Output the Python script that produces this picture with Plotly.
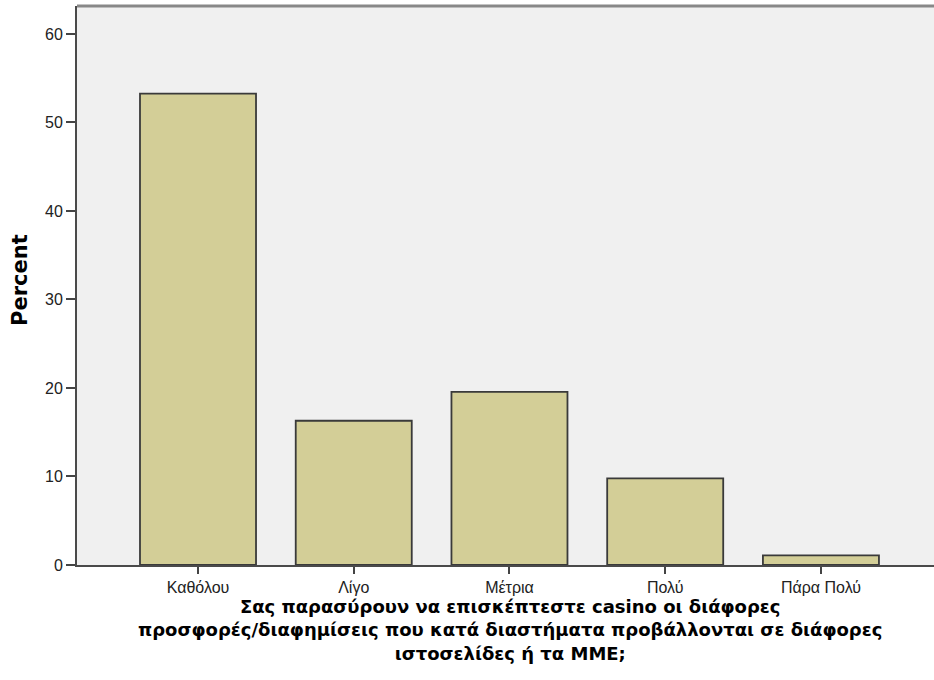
import plotly.graph_objects as go

categories = ["Καθόλου", "Λίγο", "Μέτρια", "Πολύ", "Πάρα Πολύ"]
percent = [53.26, 16.30, 19.57, 9.78, 1.09]
y_ticks = [0, 10, 20, 30, 40, 50, 60]

x_title_lines = [
    "Σας παρασύρουν να επισκέπτεστε casino οι διάφορες",
    "προσφορές/διαφημίσεις που κατά διαστήματα προβάλλονται σε διάφορες",
    "ιστοσελίδες ή τα ΜΜΕ;",
]

PLOT_TOP, PLOT_BOTTOM, PLOT_LEFT = 6, 565, 77
H = PLOT_BOTTOM - PLOT_TOP

fig = go.Figure()
fig.add_trace(go.Bar(
    x=list(range(len(categories))),
    y=percent,
    width=0.745,
    marker=dict(color="#d3ce97", line=dict(color="#3a3a3a", width=1.8)),
    hoverinfo="skip",
))

fig.update_layout(
    width=934, height=680,
    margin=dict(l=PLOT_LEFT, r=0, t=PLOT_TOP, b=680 - PLOT_BOTTOM),
    paper_bgcolor="white",
    plot_bgcolor="#f0f0f0",
    showlegend=False,
    font=dict(family="Liberation Sans, Arial, sans-serif", size=16, color="#222"),
    xaxis=dict(
        range=[-0.777, 4.726],
        tickmode="array",
        tickvals=list(range(len(categories))),
        ticktext=categories,
        ticks="outside", ticklen=7, tickwidth=2, tickcolor="#444",
        showline=True, linecolor="#4a4a4a", linewidth=2,
        showgrid=False, zeroline=False, automargin=False,
        tickfont=dict(size=16, color="#222"),
    ),
    yaxis=dict(
        range=[0, 63.16],
        tickmode="array",
        tickvals=y_ticks,
        ticks="outside", ticklen=9, tickwidth=2, tickcolor="#444",
        showline=True, linecolor="#4a4a4a", linewidth=2,
        showgrid=False, zeroline=False, automargin=False,
        tickfont=dict(size=16, color="#222"),
    ),
)

# y-axis title
fig.add_annotation(
    text="<b>Percent</b>", xref="paper", yref="paper",
    x=(20 - PLOT_LEFT) / (934 - PLOT_LEFT), y=(PLOT_BOTTOM - 280) / H,
    textangle=-90, showarrow=False, xanchor="center", yanchor="middle",
    font=dict(family="DejaVu Sans, sans-serif", size=21, color="#000"),
)

# x-axis title (three centred lines)
fig.add_annotation(
    text="<br>".join("<b>" + s + "</b>" for s in x_title_lines),
    xref="paper", yref="paper",
    x=(510 - PLOT_LEFT) / (934 - PLOT_LEFT), y=(PLOT_BOTTOM - 595) / H,
    showarrow=False, xanchor="center", yanchor="top", align="center",
    borderpad=0,
    font=dict(family="DejaVu Sans, sans-serif", size=18, color="#000"),
)

fig.add_shape(type="line", xref="paper", yref="paper", x0=0, x1=1, y0=1, y1=1,
              line=dict(color="#888", width=3))

fig.write_html("out.html", config={"displayModeBar": False},
               post_script="document.body.style.margin='0';")
